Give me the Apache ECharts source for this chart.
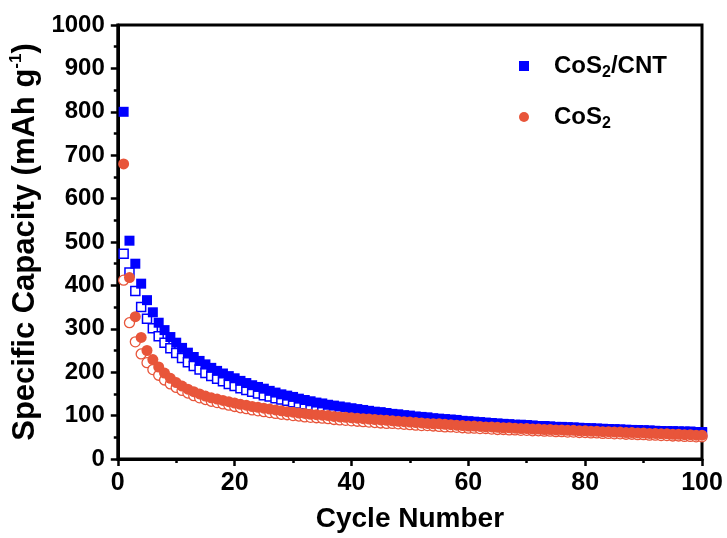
<!DOCTYPE html>
<html style="height: 100%">
<head>
<meta charset="utf-8" />
<title>Cycle performance</title>
<script type="text/javascript" src="https://cdn.jsdelivr.net/npm/echarts@6/dist/echarts.min.js"></script>
<style>
  html, body { margin: 0; padding: 0; background: #fff; }
  #container { width: 727px; height: 538px; }
</style>
</head>
<body>
<div id="container"></div>
<script type="text/javascript">
// cycle number 1..100
var cycles = [];
for (var i = 1; i <= 100; i++) cycles.push(i);

// CoS2/CNT - filled squares (discharge)
var cntDischarge = [
  800, 503, 450, 404, 366, 338, 314, 297, 281, 268,
  256, 245, 235, 226, 218, 210, 203, 197, 191, 186,
  180, 175, 170, 166, 162, 157, 153, 149, 146, 143,
  139, 136, 133, 130, 128, 125, 123, 121, 119, 117,
  115, 113, 111, 109, 108, 106, 104, 103, 101, 100,
  98, 97, 96, 94, 93, 92, 91, 90, 88, 87,
  86, 85, 84, 83, 82, 81, 80, 79, 79, 78,
  77, 76, 76, 75, 74, 74, 73, 72, 72, 71,
  70, 70, 69, 69, 68, 68, 67, 67, 66, 66,
  65, 65, 64, 64, 64, 63, 63, 63, 62, 62
];
// CoS2/CNT - hollow squares (charge)
var cntCharge = [
  473, 430, 387, 350, 323, 301, 283, 268, 255, 244,
  233, 223, 214, 206, 198, 191, 185, 179, 173, 168,
  163, 159, 155, 151, 147, 144, 140, 137, 134, 131,
  128, 126, 124, 121, 119, 117, 115, 113, 111, 110,
  108, 106, 105, 103, 102, 100, 99, 98, 96, 95,
  94, 93, 92, 91, 90, 89, 88, 87, 86, 85,
  84, 83, 82, 81, 80, 80, 79, 78, 77, 77,
  76, 75, 75, 74, 73, 73, 72, 72, 71, 70,
  70, 69, 69, 68, 68, 67, 67, 66, 66, 65,
  65, 64, 64, 63, 63, 63, 62, 62, 61, 61
];
// CoS2 - filled circles (discharge)
var cosDischarge = [
  680, 418, 328, 280, 250, 229, 212, 198, 186, 176,
  168, 161, 155, 150, 145, 141, 138, 135, 132, 129,
  126, 124, 121, 119, 117, 115, 113, 111, 109, 108,
  106, 105, 103, 102, 101, 100, 98, 97, 96, 95,
  94, 93, 92, 91, 90, 89, 88, 87, 86, 85,
  84, 83, 82, 81, 81, 80, 79, 78, 77, 76,
  76, 75, 74, 74, 73, 72, 72, 71, 70, 70,
  69, 69, 68, 68, 67, 67, 66, 66, 65, 65,
  64, 64, 63, 63, 62, 62, 61, 61, 60, 60,
  59, 59, 58, 58, 57, 57, 56, 56, 55, 55
];
// CoS2 - hollow circles (charge)
var cosCharge = [
  412, 314, 270, 242, 222, 206, 193, 182, 173, 165,
  158, 152, 146, 141, 137, 133, 130, 127, 124, 121,
  118, 116, 113, 111, 109, 107, 105, 103, 102, 100,
  99, 97, 96, 95, 94, 93, 91, 90, 89, 88,
  87, 86, 85, 84, 83, 82, 82, 81, 80, 79,
  78, 77, 77, 76, 75, 74, 74, 73, 72, 71,
  71, 70, 70, 69, 68, 68, 67, 67, 66, 66,
  65, 65, 64, 64, 63, 63, 62, 62, 61, 61,
  60, 60, 59, 59, 58, 58, 57, 57, 56, 56,
  55, 55, 54, 54, 53, 53, 52, 52, 51, 51
];

var blue = '#0000ff';
var orange = '#e8553a';
var font = "'Liberation Sans', Arial, sans-serif";

function pairs(vals) {
  var out = [];
  for (var i = 0; i < vals.length; i++) out.push([cycles[i], vals[i]]);
  return out;
}

var myChart = echarts.init(document.getElementById('container'));
var option = {
  backgroundColor: '#fff',
  animation: false,
  grid: {
    left: 117, right: 25, top: 25, bottom: 78,
    show: true, borderColor: '#000', borderWidth: 3, backgroundColor: 'transparent'
  },
  legend: {
    orient: 'vertical',
    left: 514,
    top: 49,
    itemGap: 24,
    itemWidth: 10,
    itemHeight: 10,
    data: [
      { name: 'CoS2/CNT', icon: 'rect' },
      { name: 'CoS2', icon: 'circle' }
    ],
    formatter: function (name) {
      if (name === 'CoS2/CNT') return '{a|CoS}{s|2}{a|/CNT}';
      return '{a|CoS}{s|2}';
    },
    textStyle: {
      padding: [0, 0, 0, 20],
      rich: {
        a: { fontFamily: font, fontWeight: 'bold', fontSize: 24, color: '#000' },
        s: { fontFamily: font, fontWeight: 'bold', fontSize: 16, color: '#000', padding: [14, 0, 0, 0] }
      }
    }
  },
  xAxis: {
    type: 'value',
    min: 0, max: 100, interval: 20,
    name: 'Cycle Number',
    nameLocation: 'middle',
    nameGap: 46,
    nameTextStyle: { fontFamily: font, fontWeight: 'bold', fontSize: 28, color: '#000' },
    axisLine: { show: true, lineStyle: { color: '#000', width: 3 } },
    axisTick: { show: true, inside: false, length: 7, lineStyle: { color: '#000', width: 2.5 } },
    minorTick: { show: true, splitNumber: 2, length: 4, lineStyle: { color: '#000', width: 2.5 } },
    axisLabel: { fontFamily: font, fontWeight: 'bold', fontSize: 25, color: '#000', margin: 12 },
    splitLine: { show: false }
  },
  yAxis: {
    type: 'value',
    min: 0, max: 1000, interval: 100,
    name: '{a|Specific Capacity (mAh g}{sup|-1}{a|)}',
    nameLocation: 'middle',
    nameRotate: 90,
    nameGap: 70,
    nameTextStyle: {
      rich: {
        a: { fontFamily: font, fontWeight: 'bold', fontSize: 31, color: '#000' },
        sup: { fontFamily: font, fontWeight: 'bold', fontSize: 17, color: '#000', padding: [0, 0, 17, 0] }
      }
    },
    axisLine: { show: true, lineStyle: { color: '#000', width: 3 } },
    axisTick: { show: true, inside: false, length: 7, lineStyle: { color: '#000', width: 2.5 } },
    minorTick: { show: true, splitNumber: 2, length: 4, lineStyle: { color: '#000', width: 2.5 } },
    axisLabel: {
      fontFamily: font, fontWeight: 'bold', fontSize: 24, color: '#000', margin: 13,
      formatter: function (v) { return String(v); }
    },
    splitLine: { show: false }
  },
  series: [
    {
      name: 'CoS2/CNT charge', type: 'scatter', symbol: 'rect', symbolSize: 9,
      itemStyle: { color: '#fff', borderColor: blue, borderWidth: 1.5, opacity: 1 },
      data: pairs(cntCharge), z: 2
    },
    {
      name: 'CoS2/CNT', type: 'scatter', symbol: 'rect', symbolSize: 10,
      itemStyle: { color: blue, opacity: 1 },
      data: pairs(cntDischarge), z: 3
    },
    {
      name: 'CoS2 charge', type: 'scatter', symbol: 'circle', symbolSize: 10,
      itemStyle: { color: '#fff', borderColor: orange, borderWidth: 1.3, opacity: 1 },
      data: pairs(cosCharge), z: 4
    },
    {
      name: 'CoS2', type: 'scatter', symbol: 'circle', symbolSize: 11,
      itemStyle: { color: orange, opacity: 1 },
      data: pairs(cosDischarge), z: 5
    }
  ]
};
myChart.setOption(option);
</script>
</body>
</html>
